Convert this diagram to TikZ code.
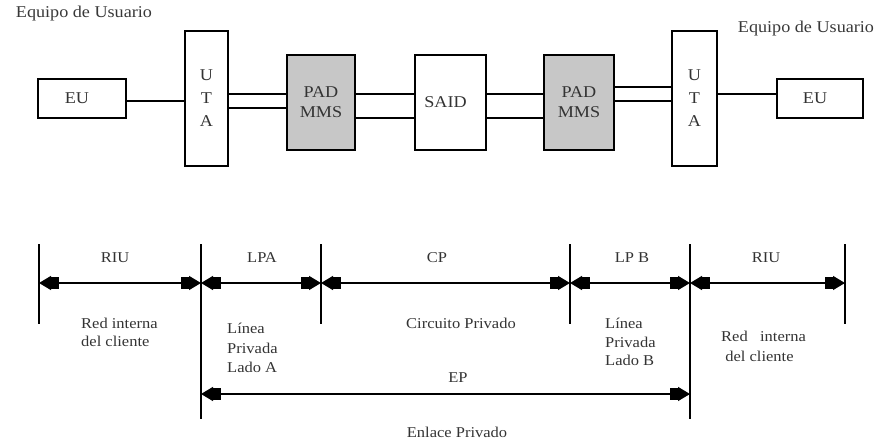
\documentclass[tikz,border=0pt]{standalone}
\usepackage{fontspec}
\setmainfont{Liberation Serif}[FakeStretch=1.1]
\usetikzlibrary{arrows.meta}
\tikzset{
  box/.style={draw=black, line width=1.8pt, inner sep=0pt, align=center,
    font=\fontsize{16.5}{20}\selectfont, text=black!80},
  greybox/.style={box, fill=black!22},
  link/.style={line width=1.6pt},
  tickline/.style={line width=1.4pt},
  dimarrow/.style={line width=1.4pt,
    {Triangle[length=12pt,width=14pt]Rectangle[length=8pt,width=12pt]}-{Rectangle[length=8pt,width=12pt]Triangle[length=12pt,width=14pt]}},
  lbl/.style={font=\fontsize{15}{19}\selectfont, text=black!80, inner sep=0pt},
  toplbl/.style={font=\fontsize{16.5}{20}\selectfont, text=black!78, inner sep=0pt},
}
\begin{document}
\begin{tikzpicture}[x=1pt,y=-1pt]
\useasboundingbox (0,0) rectangle (877,440);

% top labels
\node[toplbl] (eq1) at (84,14) {Equipo de Usuario};
\node[toplbl] (eq2) at (806,29) {Equipo de Usuario};

% boxes
\node[box, minimum width=88pt, minimum height=39pt] (eu1) at (82,98.5) {\raisebox{-9pt}{EU}\hspace{10pt}};
\node[box, minimum width=43pt, minimum height=135pt, font=\fontsize{16.5}{23}\selectfont] (uta1) at (206.5,98.5) {U\\T\\A};
\node[greybox, minimum width=68pt, minimum height=95pt] (pad1) at (321,102.5) {PAD\\MMS};
\node[box, minimum width=71pt, minimum height=95pt] (said) at (450.5,102.5) {\raisebox{-5pt}{SAID}\hspace{10pt}};
\node[greybox, minimum width=70pt, minimum height=95pt] (pad2) at (579,102.5) {PAD\\MMS};
\node[box, minimum width=45pt, minimum height=135pt, font=\fontsize{16.5}{23}\selectfont] (uta2) at (694.5,98.5) {U\\T\\A};
\node[box, minimum width=86pt, minimum height=39pt] (eu2) at (820,98.5) {\raisebox{-9pt}{EU}\hspace{10pt}};

% connectors
\draw[link] (eu1.east |- 0,101) -- (uta1.west |- 0,101);
\draw[link] (uta1.east |- 0,94) -- (pad1.west |- 0,94);
\draw[link] (uta1.east |- 0,108) -- (pad1.west |- 0,108);
\draw[link] (pad1.east |- 0,94) -- (said.west |- 0,94);
\draw[link] (pad1.east |- 0,118) -- (said.west |- 0,118);
\draw[link] (said.east |- 0,94) -- (pad2.west |- 0,94);
\draw[link] (said.east |- 0,118) -- (pad2.west |- 0,118);
\draw[link] (pad2.east |- 0,87) -- (uta2.west |- 0,87);
\draw[link] (pad2.east |- 0,101) -- (uta2.west |- 0,101);
\draw[link] (uta2.east |- 0,94) -- (eu2.west |- 0,94);

% bottom ticks
\coordinate (t0) at (39,244);
\coordinate (t1) at (201,244);
\coordinate (t2) at (321,244);
\coordinate (t3) at (570,244);
\coordinate (t4) at (690,244);
\coordinate (t5) at (845,244);
\draw[tickline] (t0) -- ++(0,80);
\draw[tickline] (t1) -- ++(0,175);
\draw[tickline] (t2) -- ++(0,80);
\draw[tickline] (t3) -- ++(0,80);
\draw[tickline] (t4) -- ++(0,175);
\draw[tickline] (t5) -- ++(0,80);

% dimension arrows
\draw[dimarrow] (t0 |- 0,283) -- (t1 |- 0,283);
\draw[dimarrow] (t1 |- 0,283) -- (t2 |- 0,283);
\draw[dimarrow] (t2 |- 0,283) -- (t3 |- 0,283);
\draw[dimarrow] (t3 |- 0,283) -- (t4 |- 0,283);
\draw[dimarrow] (t4 |- 0,283) -- (t5 |- 0,283);
\draw[dimarrow] (t1 |- 0,394) -- (t4 |- 0,394);

% labels above arrows
\node[lbl] (riu1) at (115,258) {RIU};
\node[lbl] (lpa) at (262,258) {LPA};
\node[lbl] (cp) at (437,258) {CP};
\node[lbl] (lpb) at (632,258) {LP B};
\node[lbl] (riu2) at (766,258) {RIU};
\node[lbl] (ep) at (458,378) {EP};

% labels below arrows
\node[lbl, align=left, anchor=west, font=\fontsize{15}{18}\selectfont] (rc1) at (81,332) {Red interna\\del cliente};
\node[lbl, align=left, anchor=west, font=\fontsize{15}{19.5}\selectfont] (lpla) at (227,348) {Línea\\Privada\\Lado A};
\node[lbl] (cpriv) at (461,323) {Circuito Privado};
\node[lbl, align=left, anchor=west, font=\fontsize{15}{18.5}\selectfont] (lplb) at (605,342) {Línea\\Privada\\Lado B};
\node[lbl, align=left, anchor=west, font=\fontsize{15}{20}\selectfont] (rc2) at (721,346) {Red\ \ \ interna\\\ del cliente};
\node[lbl] (epriv) at (457,432) {Enlace Privado};
\end{tikzpicture}
\end{document}
